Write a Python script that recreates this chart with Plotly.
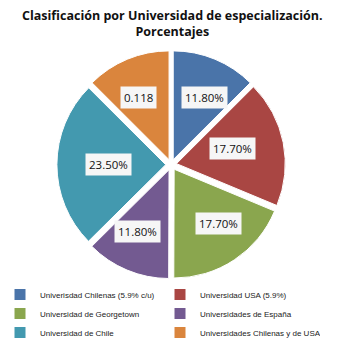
import math
import plotly.graph_objects as go

# Universidades y porcentajes
categorias = [
    "Univerisdad Chilenas (5.9% c/u)",
    "Universidad USA (5.9%)",
    "Universidad de Georgetown",
    "Universidades de España",
    "Universidad de Chile",
    "Universidades Chilenas y de USA (5.9%)",
]
valores = [11.80, 17.70, 17.70, 11.80, 23.50, 11.80]
etiquetas = ["11.80%", "17.70%", "17.70%", "11.80%", "23.50%", "0.118"]
colores = ["#4A74A9", "#A94643", "#8AA64E", "#735A91", "#4399AF", "#DA853D"]

W, H = 344, 347
dom_x = [0.155, 0.840]
dom_y = [0.182, 0.852]
pull = 0.05

fig = go.Figure(
    go.Pie(
        labels=categorias,
        values=valores,
        sort=False,
        direction="clockwise",
        rotation=0,
        marker=dict(colors=colores, line=dict(color="white", width=1)),
        pull=[pull] * len(valores),
        textinfo="none",
        hoverinfo="label+percent",
        domain=dict(x=dom_x, y=dom_y),
    )
)

# data labels placed at the middle angle of each slice
cx = (dom_x[0] + dom_x[1]) / 2 * W
cy = (dom_y[0] + dom_y[1]) / 2 * H
R = min((dom_x[1] - dom_x[0]) * W, (dom_y[1] - dom_y[0]) * H) / 2 / (1 + pull)
total = sum(valores)
acum = 0.0
for v, t in zip(valores, etiquetas):
    mid = (acum + v / 2) / total * 2 * math.pi
    acum += v
    r = R * 0.78
    px = cx + r * math.sin(mid)
    py = cy + r * math.cos(mid)
    fig.add_annotation(
        x=px / W, y=py / H, xref="paper", yref="paper",
        text=t, showarrow=False,
        font=dict(family="Open Sans", size=11.5, color="#111111"),
        bgcolor="#F6F6F6", borderpad=3,
    )

# chart title
fig.add_annotation(
    x=0.5, y=1.0, xref="paper", yref="paper",
    xanchor="center", yanchor="top", yshift=-5,
    text="<b>Clasificación por Universidad de especialización.<br>Porcentajes</b>",
    showarrow=False,
    font=dict(family="Open Sans", size=12.5, color="#111111"),
)

fig.update_layout(
    width=W, height=H,
    margin=dict(l=0, r=0, t=0, b=0),
    paper_bgcolor="white",
    showlegend=True,
    legend=dict(
        orientation="h",
        x=0.0, xanchor="left", y=0.178, yanchor="top",
        entrywidth=115, entrywidthmode="pixels",
        font=dict(family="Liberation Sans", size=8, color="#222222"),
        itemwidth=30,
    ),
)

fig.write_html("out.html")
